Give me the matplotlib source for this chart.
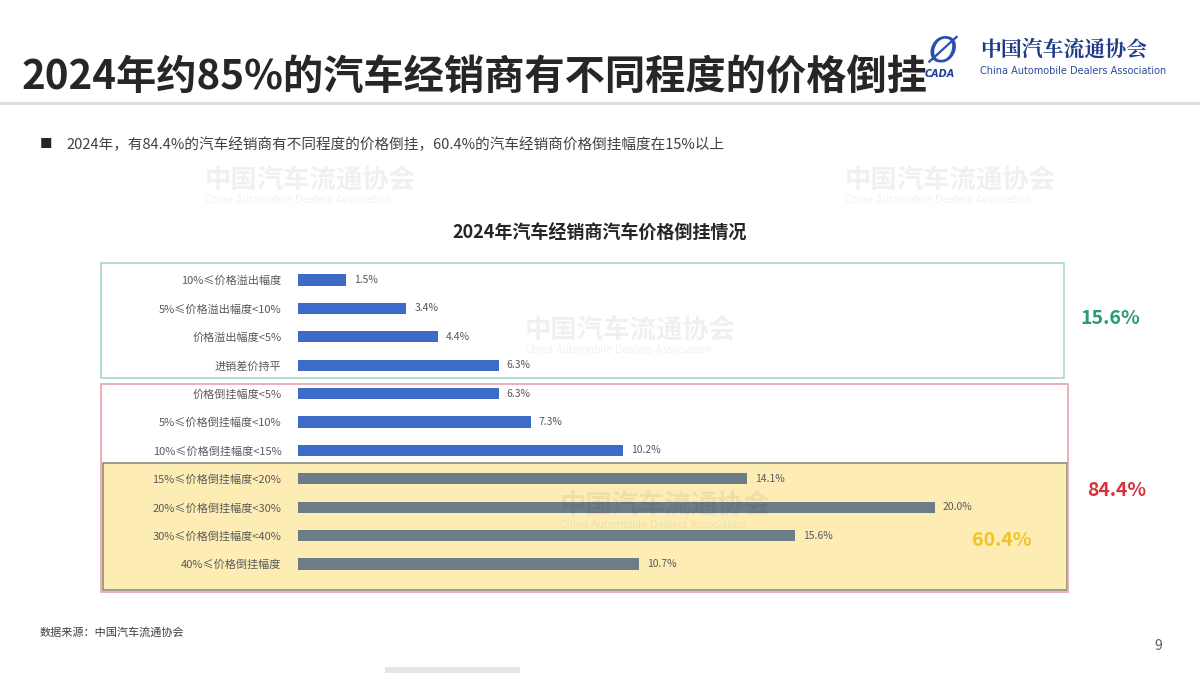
import matplotlib
matplotlib.use("Agg")
import matplotlib.pyplot as plt
from matplotlib.patches import Rectangle

plt.rcParams['font.family'] = ['Noto Sans CJK SC', 'DejaVu Sans']

# ---- data ----
categories = [
    "10%≤价格溢出幅度",
    "5%≤价格溢出幅度<10%",
    "价格溢出幅度<5%",
    "进销差价持平",
    "价格倒挂幅度<5%",
    "5%≤价格倒挂幅度<10%",
    "10%≤价格倒挂幅度<15%",
    "15%≤价格倒挂幅度<20%",
    "20%≤价格倒挂幅度<30%",
    "30%≤价格倒挂幅度<40%",
    "40%≤价格倒挂幅度",
]
values = [1.5, 3.4, 4.4, 6.3, 6.3, 7.3, 10.2, 14.1, 20.0, 15.6, 10.7]
groups = ["blue"] * 7 + ["gray"] * 4
summary_labels = ["15.6%", "84.4%", "60.4%"]

title = "2024年约85%的汽车经销商有不同程度的价格倒挂"
bullet = "2024年，有84.4%的汽车经销商有不同程度的价格倒挂，60.4%的汽车经销商价格倒挂幅度在15%以上"
chart_title = "2024年汽车经销商汽车价格倒挂情况"
source = "数据来源：中国汽车流通协会"

W, H = 1200, 673
fig = plt.figure(figsize=(W / 100, H / 100), dpi=100)
fig.patch.set_facecolor("white")


def fx(px):
    return px / W


def fy(py):
    return 1 - py / H


def frect(x0, y0, x1, y1, **kw):
    r = Rectangle((fx(x0), fy(y1)), fx(x1) - fx(x0), fy(y0) - fy(y1),
                  transform=fig.transFigure, **kw)
    fig.patches.append(r)
    return r


# watermarks
for (wx, wy) in [(205, 180), (845, 180), (525, 330), (560, 505)]:
    fig.text(fx(wx), fy(wy), "中国汽车流通协会", fontsize=19, color="#000000",
             alpha=0.06, ha="left", va="center", fontweight="bold")
    fig.text(fx(wx), fy(wy + 20), "China Automobile Dealers Association", fontsize=7,
             color="#000000", alpha=0.06, ha="left", va="center", family="DejaVu Sans")

# title
fig.text(fx(22), fy(78), title, fontsize=29, fontweight="bold", color="#262626",
         ha="left", va="center")
fig.lines.append(plt.Line2D([0, 1], [fy(103), fy(103)], transform=fig.transFigure,
                            color="#d5dee5", lw=2.0))

# logo
fig.text(fx(925), fy(74), "CADA", fontsize=7, fontstyle="italic", fontweight="bold",
         color="#1f3f9a", family="DejaVu Sans", ha="left", va="center")
fig.text(fx(942), fy(52), "Ø", fontsize=26, color="#2a4fb0", family="DejaVu Sans",
         ha="center", va="center", fontstyle="italic")
fig.text(fx(980), fy(50), "中国汽车流通协会", fontsize=15, fontweight="bold",
         color="#1f3a8a", ha="left", va="center", family=["Noto Serif CJK SC", "Noto Sans CJK SC"])
fig.text(fx(980), fy(71), "China Automobile Dealers Association", fontsize=7,
         color="#2a4a9a", ha="left", va="center", family="DejaVu Sans")

# bullet
fig.text(fx(40), fy(145), "■", fontsize=9, color="#262626", ha="left", va="center")
fig.text(fx(66), fy(145), bullet, fontsize=10.5, color="#404040", ha="left", va="center")

# chart title
fig.text(fx(600), fy(233), chart_title, fontsize=13, fontweight="bold", color="#262626",
         ha="center", va="center")

# boxes
frect(103, 463, 1067, 590, facecolor="#fdedb5", edgecolor="none", zorder=-2)
frect(103, 463, 1067, 590, facecolor="none", edgecolor="#8c8c7a", lw=1.2, zorder=-1)
frect(101, 263, 1064, 378, facecolor="none", edgecolor="#a6d9cb", lw=1.2, zorder=-1)
frect(101, 384, 1068, 592, facecolor="none", edgecolor="#e8a3ab", lw=1.2, zorder=-1)

# axes: x0 = 298 px at value 0, 31.85 px per %
px_per = 31.85
ax_left, ax_right = 298, 1064
row0, row_step = 280, 28.4
ax_top, ax_bot = 263, 592
ax = fig.add_axes([fx(ax_left), fy(ax_bot), fx(ax_right) - fx(ax_left), fy(ax_top) - fy(ax_bot)])
ax.set_facecolor("none")
ax.set_xlim(0, (ax_right - ax_left) / px_per)
ax.set_ylim((ax_bot - row0) / row_step, (ax_top - row0) / row_step)

color_map = {"blue": "#3d6cc8", "gray": "#6d7d88"}
ypos = list(range(len(categories)))
ax.barh(ypos, values, height=0.4, color=[color_map[g] for g in groups], zorder=3)
for y, v in zip(ypos, values):
    ax.text(v + 0.25, y, f"{v:.1f}%", fontsize=7.5, color="#595959",
            ha="left", va="center")
ax.set_yticks(ypos)
ax.set_yticklabels(categories, fontsize=8, color="#595959")
ax.tick_params(axis="y", length=0, pad=12)
ax.set_xticks([])
for s in ax.spines.values():
    s.set_visible(False)

# summary numbers
fig.text(fx(1110), fy(318), summary_labels[0], fontsize=14, fontweight="bold",
         color="#2a9a78", ha="center", va="center")
fig.text(fx(1117), fy(491), summary_labels[1], fontsize=14, fontweight="bold",
         color="#d9303a", ha="center", va="center")
fig.text(fx(1002), fy(541), summary_labels[2], fontsize=14, fontweight="bold",
         color="#f3c322", ha="center", va="center")

# footer
fig.text(fx(40), fy(632), source, fontsize=8, color="#404040", ha="left", va="center")
fig.text(fx(1158), fy(646), "9", fontsize=10, color="#595959", ha="center", va="center")
frect(385, 667, 520, 673, facecolor="#e4e6ea", edgecolor="none", zorder=-2)

fig.savefig("out.png", dpi=100, facecolor="white")
